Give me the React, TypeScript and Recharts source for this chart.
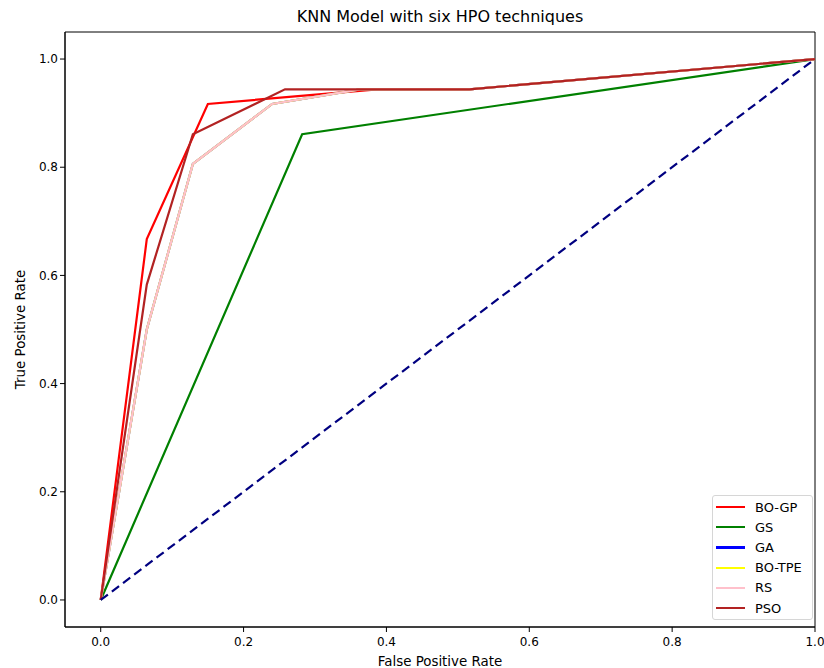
import React from 'react';
import { LineChart, Line, XAxis, YAxis, ReferenceArea, Legend } from 'recharts';

const xTicks = [0, 0.2, 0.4, 0.6, 0.8, 1.0];
const yTicks = [0, 0.2, 0.4, 0.6, 0.8, 1.0];
const seriesOrder = ['BO-GP', 'GS', 'GA', 'BO-TPE', 'RS', 'PSO'];

const boGpFpr = [0, 0.0645, 0.15, 0.387, 0.516, 1];
const boGpTpr = [0, 0.667, 0.917, 0.944, 0.944, 1];
const gsFpr = [0, 0.282, 1];
const gsTpr = [0, 0.861, 1];
const gaFpr = [0, 0.0645, 0.129, 0.24, 0.363, 0.516, 1];
const gaTpr = [0, 0.5, 0.806, 0.917, 0.944, 0.944, 1];
const boTpeFpr = [0, 0.0645, 0.129, 0.24, 0.363, 0.516, 1];
const boTpeTpr = [0, 0.5, 0.806, 0.917, 0.944, 0.944, 1];
const rsFpr = [0, 0.0645, 0.129, 0.24, 0.363, 0.516, 1];
const rsTpr = [0, 0.5, 0.806, 0.917, 0.944, 0.944, 1];
const psoFpr = [0, 0.0645, 0.129, 0.258, 0.516, 1];
const psoTpr = [0, 0.583, 0.861, 0.944, 0.944, 1];
const chanceFpr = [0, 1];
const chanceTpr = [0, 1];

const pts = (xs: number[], ys: number[]) => xs.map((x, i) => ({ x, y: ys[i] }));

const FONT = "'DejaVu Sans', sans-serif";

const LegendBox = (props: any) => {
  const items = (props.payload || [])
    .filter((p: any) => p.type !== 'none' && seriesOrder.indexOf(p.value) >= 0)
    .slice()
    .sort((a: any, b: any) => seriesOrder.indexOf(a.value) - seriesOrder.indexOf(b.value));
  return (
    <div
      style={{
        position: 'absolute',
        left: 712,
        top: 495,
        width: 101,
        boxSizing: 'border-box',
        border: '1px solid #d6d6d6',
        borderRadius: 3,
        background: 'rgba(255,255,255,0.8)',
        padding: '1px 0 1px 3px',
        fontFamily: FONT,
        fontSize: 13,
        color: '#000',
        whiteSpace: 'nowrap',
      }}
    >
      {items.map((p: any) => (
        <div key={p.value} style={{ display: 'flex', alignItems: 'center', height: 20.2 }}>
          <div style={{ width: 29, height: 2.2, background: p.color, marginRight: 10 }} />
          <span>{p.value}</span>
        </div>
      ))}
    </div>
  );
};

export default function App() {
  return (
    <div style={{ position: 'absolute', left: 0, top: 0, width: 824, height: 668, background: '#fff' }}>
      <div
        style={{
          position: 'absolute',
          left: 65,
          width: 750,
          top: 7,
          textAlign: 'center',
          fontFamily: FONT,
          fontSize: 16,
          color: '#000',
        }}
      >
        KNN Model with six HPO techniques
      </div>
      <LineChart
        width={824}
        height={668}
        margin={{ top: 32, right: 9, bottom: 0, left: 0 }}
        style={{ fontFamily: FONT }}
      >
        <XAxis
          dataKey="x"
          type="number"
          domain={[-0.05, 1.0]}
          ticks={xTicks}
          tickFormatter={(v: number) => v.toFixed(1)}
          allowDataOverflow
          height={41}
          tickSize={5}
          stroke="#000"
          tick={{ fill: '#000', fontSize: 12, dy: 3 }}
          label={{ value: 'False Positive Rate', position: 'insideBottom', offset: 2, fill: '#000', fontSize: 13.4 }}
        />
        <YAxis
          type="number"
          domain={[-0.05, 1.05]}
          ticks={yTicks}
          tickFormatter={(v: number) => v.toFixed(1)}
          allowDataOverflow
          width={65}
          tickSize={5}
          stroke="#000"
          tick={{ fill: '#000', fontSize: 12 }}
          label={{
            value: 'True Positive Rate',
            angle: -90,
            position: 'insideLeft',
            offset: 20,
            fill: '#000',
            fontSize: 13.4,
            style: { textAnchor: 'middle' },
          }}
        />
        <ReferenceArea x1={-0.05} x2={1.0} y1={-0.05} y2={1.05} stroke="#000" strokeWidth={1} fill="none" fillOpacity={0} ifOverflow="visible" />
        <Line data={pts(boGpFpr, boGpTpr)} dataKey="y" name="BO-GP" stroke="#ff0000" strokeWidth={2.2} dot={false} isAnimationActive={false} />
        <Line data={pts(gsFpr, gsTpr)} dataKey="y" name="GS" stroke="#008000" strokeWidth={2.2} dot={false} isAnimationActive={false} />
        <Line data={pts(gaFpr, gaTpr)} dataKey="y" name="GA" stroke="#0000ff" strokeWidth={2.2} dot={false} isAnimationActive={false} />
        <Line data={pts(boTpeFpr, boTpeTpr)} dataKey="y" name="BO-TPE" stroke="#ffff00" strokeWidth={2.2} dot={false} isAnimationActive={false} />
        <Line data={pts(rsFpr, rsTpr)} dataKey="y" name="RS" stroke="#ffc0cb" strokeWidth={2.2} dot={false} isAnimationActive={false} />
        <Line data={pts(psoFpr, psoTpr)} dataKey="y" name="PSO" stroke="#b22222" strokeWidth={2.2} dot={false} isAnimationActive={false} />
        <Line data={pts(chanceFpr, chanceTpr)} dataKey="y" name="chance" stroke="#000080" strokeWidth={2.2} strokeDasharray="9 5" dot={false} legendType="none" isAnimationActive={false} />
        <Legend
          layout="vertical"
          align="center"
          verticalAlign="middle"
          content={<LegendBox />}
          wrapperStyle={{ position: 'absolute', left: 0, top: 0, width: 0, height: 0, overflow: 'visible' }}
        />
      </LineChart>
    </div>
  );
}
